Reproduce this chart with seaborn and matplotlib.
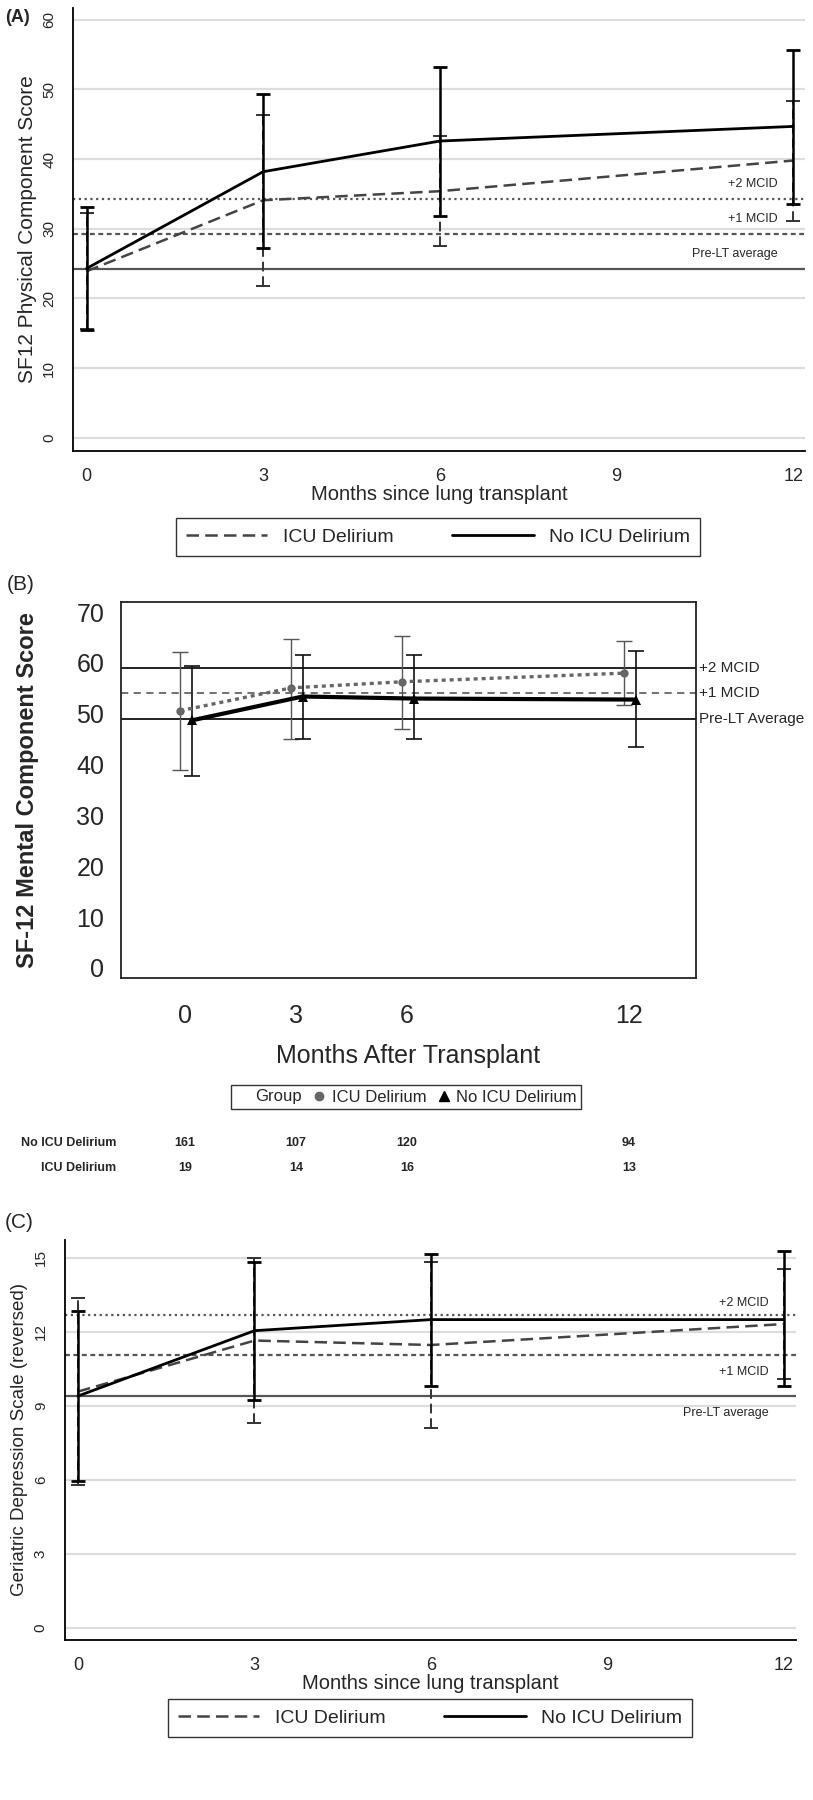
import numpy as np
import pandas as pd
import matplotlib
matplotlib.use("Agg")
import matplotlib.pyplot as plt
import matplotlib.transforms as mtransforms
from matplotlib.lines import Line2D
import seaborn as sns

months = [0, 3, 6, 12]
groups = ["ICU Delirium", "No ICU Delirium"]

# (A) SF12 physical component score
pcs_icu = [23.9, 34.1, 35.4, 39.8]
pcs_icu_lo = [15.6, 21.8, 27.5, 31.1]
pcs_icu_hi = [32.2, 46.4, 43.3, 48.4]
pcs_no = [24.3, 38.2, 42.6, 44.7]
pcs_no_lo = [15.5, 27.3, 31.8, 33.6]
pcs_no_hi = [33.2, 49.3, 53.3, 55.7]
pcs_ref = [24.2, 29.3, 34.3]

# (B) SF-12 mental component score
mcs_icu = [50.6, 55.1, 56.3, 58.0]
mcs_icu_lo = [39.0, 45.1, 47.0, 51.8]
mcs_icu_hi = [62.2, 64.8, 65.4, 64.4]
mcs_no = [48.7, 53.4, 53.0, 52.8]
mcs_no_lo = [37.8, 45.1, 45.1, 43.5]
mcs_no_hi = [59.5, 61.6, 61.6, 62.4]
mcs_ref = [49, 54, 59]
n_no = [161, 107, 120, 94]
n_icu = [19, 14, 16, 13]

# (C) Geriatric depression scale (reversed)
gds_icu = [9.58, 11.65, 11.47, 12.32]
gds_icu_lo = [5.8, 8.3, 8.12, 10.1]
gds_icu_hi = [13.37, 15.0, 14.83, 14.55]
gds_no = [9.4, 12.05, 12.5, 12.5]
gds_no_lo = [5.97, 9.25, 9.82, 9.8]
gds_no_hi = [12.83, 14.85, 15.17, 15.27]
gds_ref = [9.4, 11.05, 12.7]

ref_labels_A = ["Pre-LT average", "+1 MCID", "+2 MCID"]
ref_labels_B = ["Pre-LT Average", "+1 MCID", "+2 MCID"]

sns.set_style("white")
REG = ["Liberation Sans", "DejaVu Sans"]
plt.rcParams["font.family"] = REG

W, H = 813, 1800
fig = plt.figure(figsize=(W / 100, H / 100), dpi=100)


def box(l, t, r, b):
    return [l / W, 1 - b / H, (r - l) / W, (b - t) / H]


def stata_panel(ax, icu, icu_lo, icu_hi, no, no_lo, no_hi, ref, yticks, ylim, ylabel, ylsize):
    df = pd.DataFrame({"month": months * 2, "score": icu + no,
                       "group": [g for g in groups for _ in months]})
    for yt in yticks:
        ax.axhline(yt, color="#dddddd", lw=1.6, zorder=0)
    ax.axhline(ref[0], color="#555555", lw=1.6, zorder=1)
    ax.axhline(ref[1], color="#555555", lw=1.6, ls=(0, (2.2, 1.6)), zorder=1)
    ax.axhline(ref[2], color="#555555", lw=1.6, ls=(0, (1, 1.6)), zorder=1)
    sns.lineplot(data=df[df.group == groups[0]], x="month", y="score", ax=ax,
                 color="#444444", lw=1.8, ls=(0, (5, 2.5)), legend=False, zorder=3)
    sns.lineplot(data=df[df.group == groups[1]], x="month", y="score", ax=ax,
                 color="black", lw=2.0, legend=False, zorder=4)
    e1 = ax.errorbar(months, icu, yerr=[np.subtract(icu, icu_lo), np.subtract(icu_hi, icu)],
                     fmt="none", ecolor="#333333", elinewidth=1.4, capsize=5, capthick=1.4, zorder=3)
    e1[2][0].set_linestyle((0, (5, 2.5)))
    ax.errorbar(months, no, yerr=[np.subtract(no, no_lo), np.subtract(no_hi, no)],
                fmt="none", ecolor="black", elinewidth=1.8, capsize=5, capthick=2.0, zorder=4)
    ax.set_xlim(-0.23, 12.2)
    ax.set_ylim(*ylim)
    ax.set_xticks([0, 3, 6, 9, 12])
    ax.set_yticks(yticks)
    ax.set_yticklabels([str(v) for v in yticks], rotation=90, va="center", fontsize=11)
    ax.tick_params(axis="x", labelsize=13, length=8, width=1.3, direction="out", pad=4)
    ax.tick_params(axis="y", length=7, width=1.3, direction="out", pad=5)
    ax.set_xlabel("Months since lung transplant", fontsize=14.5, labelpad=0)
    ax.set_ylabel(ylabel, fontsize=ylsize, labelpad=4)
    for s in ["top", "right"]:
        ax.spines[s].set_visible(False)
    for s in ["left", "bottom"]:
        ax.spines[s].set_linewidth(1.3)
        ax.spines[s].set_color("black")


# ---------------- (A) ----------------
axA = fig.add_axes(box(73, 8, 805, 451))
stata_panel(axA, pcs_icu, pcs_icu_lo, pcs_icu_hi, pcs_no, pcs_no_lo, pcs_no_hi,
            pcs_ref, [0, 10, 20, 30, 40, 50, 60], (-1.9, 61.7),
            "SF12 Physical Component Score", 15)
for v, lab in zip(pcs_ref, ref_labels_A):
    axA.text(11.74, v + 1.3, lab, ha="right", va="bottom", fontsize=9)
fig.text(5 / W, 1 - 18 / H, "(A)", fontsize=13, fontweight="bold", va="center")

legA = [Line2D([], [], color="#444444", lw=1.8, ls=(0, (5, 2.5))),
        Line2D([], [], color="black", lw=2.0)]
fig.legend(legA, groups, loc="center", bbox_to_anchor=(438 / W, 1 - 537 / H), ncol=2,
           fontsize=14, frameon=True, fancybox=False, edgecolor="black",
           handlelength=4.2, columnspacing=3.0, borderpad=0.5, handletextpad=0.8)

# ---------------- (B) ----------------
axB = fig.add_axes(box(121, 602, 696, 978))
dB = pd.DataFrame({"month": months * 2, "score": mcs_icu + mcs_no,
                   "group": [g for g in groups for _ in months]})
off = {"ICU Delirium": -0.13, "No ICU Delirium": 0.18}
dB["xpos"] = dB["month"] + dB["group"].map(off)
axB.axhline(mcs_ref[0], color="#222222", lw=1.4, zorder=1)
axB.axhline(mcs_ref[1], color="#666666", lw=1.3, ls=(0, (4, 3)), zorder=1)
axB.axhline(mcs_ref[2], color="#222222", lw=1.4, zorder=1)
x_icu = np.array(months) + off[groups[0]]
x_no = np.array(months) + off[groups[1]]
axB.errorbar(x_icu, mcs_icu, yerr=[np.subtract(mcs_icu, mcs_icu_lo), np.subtract(mcs_icu_hi, mcs_icu)],
             fmt="none", ecolor="#555555", elinewidth=1.0, capsize=5.5, capthick=1.0, zorder=2)
axB.errorbar(x_no, mcs_no, yerr=[np.subtract(mcs_no, mcs_no_lo), np.subtract(mcs_no_hi, mcs_no)],
             fmt="none", ecolor="#111111", elinewidth=1.2, capsize=5.5, capthick=1.2, zorder=2)
sns.lineplot(data=dB[dB.group == groups[0]], x="xpos", y="score", ax=axB, color="#666666",
             lw=2.4, ls=(0, (1.2, 1.2)), marker="o", markersize=6, markeredgewidth=0,
             legend=False, zorder=3)
sns.lineplot(data=dB[dB.group == groups[1]], x="xpos", y="score", ax=axB, color="black",
             lw=3.0, marker="^", markersize=6.5, markeredgewidth=0, legend=False, zorder=4)
axB.set_xlim(-1.73, 13.81)
axB.set_ylim(-2, 72)
axB.set_xticks(months)
axB.set_yticks(range(0, 71, 10))
axB.tick_params(axis="both", labelsize=18, length=8, width=1.2, direction="out", pad=4)
axB.tick_params(axis="x", pad=11)
axB.set_xlabel("Months After Transplant", fontsize=18, labelpad=11)
axB.set_ylabel("SF-12 Mental Component Score", fontsize=17, fontweight="bold")
axB.yaxis.set_label_coords(-0.143, 0.5)
for s in axB.spines.values():
    s.set_visible(True)
    s.set_linewidth(1.3)
    s.set_color("#222222")
for v, lab in zip(mcs_ref, ref_labels_B):
    axB.text(1.006, v, lab, transform=axB.get_yaxis_transform(), ha="left", va="center",
             fontsize=11)
fig.text(7 / W, 1 - 585 / H, "(B)", fontsize=15, va="center")

legB = [Line2D([], [], color="none"),
        Line2D([], [], color="#666666", marker="o", ls="none", markersize=6),
        Line2D([], [], color="black", marker="^", ls="none", markersize=7)]
fig.legend(legB, ["Group"] + groups, loc="center", bbox_to_anchor=(406 / W, 1 - 1097 / H),
           ncol=3, fontsize=12, frameon=True, fancybox=False, edgecolor="black",
           handlelength=0.9, handletextpad=0.3, columnspacing=0.6, borderpad=0.25)

tr = mtransforms.blended_transform_factory(axB.transData, fig.transFigure)
for y_px, lab, counts in [(1143, "No ICU Delirium", n_no), (1168, "ICU Delirium", n_icu)]:
    fig.text(116 / W, 1 - y_px / H, lab, ha="right", va="center", fontsize=9, fontweight="bold")
    for m, c in zip(months, counts):
        axB.text(m, 1 - y_px / H, str(c), transform=tr, ha="center", va="center",
                 fontsize=9, fontweight="bold")

# ---------------- (C) ----------------
axC = fig.add_axes(box(64.5, 1240, 795.5, 1640))
stata_panel(axC, gds_icu, gds_icu_lo, gds_icu_hi, gds_no, gds_no_lo, gds_no_hi,
            gds_ref, [0, 3, 6, 9, 12, 15], (-0.5, 15.73),
            "Geriatric Depression Scale (reversed)", 13.5)
axC.text(11.74, gds_ref[2] + 0.25, "+2 MCID", ha="right", va="bottom", fontsize=9)
axC.text(11.74, gds_ref[1] - 0.45, "+1 MCID", ha="right", va="top", fontsize=9)
axC.text(11.74, gds_ref[0] - 0.45, "Pre-LT average", ha="right", va="top", fontsize=9)
fig.text(5 / W, 1 - 1222 / H, "(C)", fontsize=15, va="center")

fig.legend(legA, groups, loc="center", bbox_to_anchor=(430 / W, 1 - 1718 / H), ncol=2,
           fontsize=14, frameon=True, fancybox=False, edgecolor="black",
           handlelength=4.2, columnspacing=3.0, borderpad=0.5, handletextpad=0.8)

fig.savefig("out.png", dpi=100, facecolor="white")
